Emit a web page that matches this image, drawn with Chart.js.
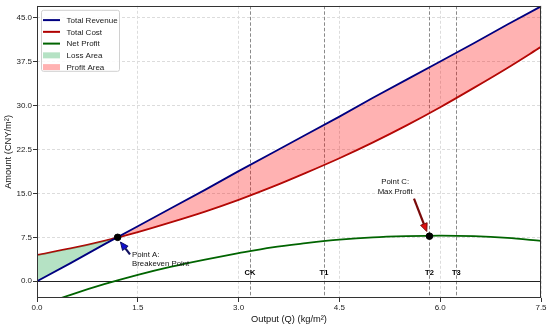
<!DOCTYPE html>
<html>
<head>
<meta charset="utf-8">
<script src="https://cdn.jsdelivr.net/npm/chart.js@4/dist/chart.umd.min.js"></script>
<style>
  html, body { margin: 0; padding: 0; background: #fff; }
</style>
</head>
<body>
<canvas id="chart" width="550" height="327"></canvas>
<script>
// ── Data ─────────────────────────────────────────────────────────
const Q       = [0, 0.5, 1.0, 1.5, 2.0, 2.5, 3.0, 3.5, 4.0, 4.5, 5.0, 5.5, 6.0, 6.5, 7.0, 7.5];
const REVENUE = [0, 3.1, 6.3, 9.4, 12.5, 15.6, 18.8, 21.9, 25.0, 28.1, 31.3, 34.4, 37.5, 40.6, 43.8, 46.9];
const COST    = [4.5, 5.6, 6.9, 8.4, 10.1, 11.9, 13.9, 16.1, 18.5, 21.0, 23.7, 26.6, 29.7, 33.0, 36.4, 40.0];
const PROFIT  = [-4.3, -2.3, -0.5, 1.1, 2.5, 3.7, 4.8, 5.8, 6.5, 7.1, 7.5, 7.7, 7.8, 7.7, 7.4, 6.9];

const TREATMENTS  = ['CK', 'T1', 'T2', 'T3'];
const TREATMENT_Q = [3.17, 4.27, 5.84, 6.24];

const KEY_LABELS = ['Point A:\nBreakeven Point', 'Point C:\nMax Profit'];
const KEY_Q      = [1.2, 5.84];
const KEY_Y      = [7.5, 7.7];

const X_TICKS = [0, 1.5, 3.0, 4.5, 6.0, 7.5];
const Y_TICKS = [0, 7.5, 15.0, 22.5, 30.0, 37.5, 45.0];


// ── Styling ──────────────────────────────────────────────────────
const FONT = "'Liberation Sans', Arial, sans-serif";
const C_REV = '#000080';
const C_COST = '#b00000';
const C_PROFIT = '#006400';
const FILL_PROFIT = 'rgba(255, 0, 0, 0.3)';
const FILL_LOSS = 'rgba(60, 179, 100, 0.38)';

const pts = ys => Q.map((q, i) => ({ x: q, y: ys[i] }));

// annotation placement (data coords)
const NOTES = [
  { tail: [1.384, 4.58], tip: [1.242, 6.7], text: [1.414, 3.8], align: 'left',
    shaft: '#101060', head: '#1010d0' },
  { tail: [5.61, 14.1], tip: [5.80, 8.5], text: [5.33, 16.1], align: 'center',
    shaft: '#7a0a0a', head: '#e01010' }
];

const LEGEND = [
  { label: 'Total Revenue', type: 'line', color: C_REV },
  { label: 'Total Cost', type: 'line', color: C_COST },
  { label: 'Net Profit', type: 'line', color: C_PROFIT },
  { label: 'Loss Area', type: 'patch', color: FILL_LOSS },
  { label: 'Profit Area', type: 'patch', color: FILL_PROFIT }
];


// ── Helpers ──────────────────────────────────────────────────────
function drawArrow(ctx, x0, y0, x1, y1, shaft, head) {
  const ang = Math.atan2(y1 - y0, x1 - x0);
  const hl = 8, hw = 3.5;
  const bx = x1 - hl * Math.cos(ang), by = y1 - hl * Math.sin(ang);
  const nx = -Math.sin(ang), ny = Math.cos(ang);

  ctx.strokeStyle = shaft;
  ctx.lineWidth = 2.2;
  ctx.beginPath();
  ctx.moveTo(x0, y0);
  ctx.lineTo(bx, by);
  ctx.stroke();

  ctx.beginPath();
  ctx.moveTo(x1, y1);
  ctx.lineTo(bx + nx * hw, by + ny * hw);
  ctx.lineTo(bx - nx * hw, by - ny * hw);
  ctx.closePath();
  ctx.fillStyle = head;
  ctx.fill();
  ctx.lineWidth = 1;
  ctx.strokeStyle = shaft;
  ctx.stroke();
}


// ── Overlay plugin ───────────────────────────────────────────────
const overlay = {
  id: 'overlay',
  beforeDatasetsDraw(chart) {
    const { ctx, chartArea: a, scales: { x, y } } = chart;
    ctx.save();
    ctx.beginPath();
    ctx.rect(a.left, a.top, a.width, a.height);
    ctx.clip();

    // treatment reference lines
    ctx.strokeStyle = '#8a8a8a';
    ctx.lineWidth = 1;
    ctx.setLineDash([3.5, 2]);
    TREATMENT_Q.forEach(q => {
      const px = Math.round(x.getPixelForValue(q)) + 0.5;
      ctx.beginPath();
      ctx.moveTo(px, a.top);
      ctx.lineTo(px, a.bottom);
      ctx.stroke();
    });

    // zero line
    ctx.setLineDash([]);
    ctx.strokeStyle = '#222';
    const py = Math.round(y.getPixelForValue(0)) + 0.5;
    ctx.beginPath();
    ctx.moveTo(a.left, py);
    ctx.lineTo(a.right, py);
    ctx.stroke();
    ctx.restore();
  },

  afterDatasetsDraw(chart) {
    const { ctx, scales: { x, y } } = chart;
    ctx.save();

    // treatment labels
    ctx.fillStyle = '#000';
    ctx.font = `bold 7.5px ${FONT}`;
    ctx.textAlign = 'center';
    ctx.textBaseline = 'middle';
    TREATMENTS.forEach((t, i) => {
      ctx.fillText(t, x.getPixelForValue(TREATMENT_Q[i]), y.getPixelForValue(1.35));
    });

    // annotations
    ctx.font = `7.8px ${FONT}`;
    NOTES.forEach((n, i) => {
      drawArrow(ctx,
        x.getPixelForValue(n.tail[0]), y.getPixelForValue(n.tail[1]),
        x.getPixelForValue(n.tip[0]), y.getPixelForValue(n.tip[1]),
        n.shaft, n.head);
      ctx.fillStyle = '#111';
      ctx.textAlign = n.align;
      const tx = x.getPixelForValue(n.text[0]);
      const ty = y.getPixelForValue(n.text[1]);
      const lines = KEY_LABELS[i].split('\n');
      lines.forEach((ln, k) => {
        ctx.fillText(ln, tx, ty + (k - (lines.length - 1) / 2) * 9.3);
      });
    });

    ctx.restore();
  },

  afterDraw(chart) {
    const { ctx, chartArea: a } = chart;
    ctx.save();

    // frame
    ctx.strokeStyle = '#333';
    ctx.lineWidth = 1;
    ctx.strokeRect(Math.round(a.left) + 0.5, Math.round(a.top) + 0.5,
      Math.round(a.width) - 1, Math.round(a.height) - 1);

    // legend box
    const lx = a.left + 4, ly = a.top + 4, lw = 78, lh = 61;
    ctx.fillStyle = 'rgba(255,255,255,0.85)';
    ctx.strokeStyle = '#d0d0d0';
    ctx.beginPath();
    ctx.roundRect(lx + 0.5, ly + 0.5, lw, lh, 2);
    ctx.fill();
    ctx.stroke();

    ctx.font = `8px ${FONT}`;
    ctx.textAlign = 'left';
    ctx.textBaseline = 'middle';
    LEGEND.forEach((item, i) => {
      const cy = ly + 10.3 + i * 11.75;
      if (item.type === 'line') {
        ctx.strokeStyle = item.color;
        ctx.lineWidth = 2;
        ctx.beginPath();
        ctx.moveTo(lx + 2, cy);
        ctx.lineTo(lx + 19, cy);
        ctx.stroke();
      } else {
        ctx.fillStyle = item.color;
        ctx.fillRect(lx + 2, cy - 3, 17, 6);
      }
      ctx.fillStyle = '#1a1a1a';
      ctx.fillText(item.label, lx + 25.5, cy + 0.5);
    });

    ctx.restore();
  }
};


// ── Chart ────────────────────────────────────────────────────────
new Chart(document.getElementById('chart'), {
  type: 'line',
  data: {
    datasets: [
      {
        type: 'scatter',
        label: 'Key points',
        data: KEY_Q.map((q, i) => ({ x: q, y: KEY_Y[i] })),
        pointRadius: 3.3,
        pointBackgroundColor: '#000',
        pointBorderColor: '#000',
        showLine: false
      },
      {
        label: 'Total Revenue',
        data: pts(REVENUE),
        borderColor: C_REV,
        borderWidth: 1.8,
        pointRadius: 0,
        tension: 0,
        fill: { target: 2, above: FILL_PROFIT, below: FILL_LOSS }
      },
      {
        label: 'Total Cost',
        data: pts(COST),
        borderColor: C_COST,
        borderWidth: 1.8,
        pointRadius: 0,
        cubicInterpolationMode: 'monotone',
        fill: false
      },
      {
        label: 'Net Profit',
        data: pts(PROFIT),
        borderColor: C_PROFIT,
        borderWidth: 1.8,
        pointRadius: 0,
        cubicInterpolationMode: 'monotone',
        fill: false
      }
    ]
  },
  options: {
    responsive: false,
    animation: false,
    layout: { padding: { top: 4, right: 9, left: 0, bottom: 0 } },
    plugins: {
      legend: { display: false },
      tooltip: { enabled: false }
    },
    scales: {
      x: {
        type: 'linear',
        min: 0,
        max: 7.5,
        afterBuildTicks: s => { s.ticks = X_TICKS.map(v => ({ value: v })); },
        afterFit: s => { s.height = 29; },
        ticks: {
          callback: v => Number(v).toFixed(1),
          font: { family: FONT, size: 8 },
          color: '#222',
          padding: 1,
          maxRotation: 0
        },
        grid: {
          color: '#dcdcdc',
          tickColor: '#333',
          tickLength: 4,
          tickBorderDash: []
        },
        border: { display: false, dash: [3, 2] },
        title: {
          display: true,
          text: 'Output (Q) (kg/m²)',
          font: { family: FONT, size: 9.3 },
          color: '#111',
          padding: { top: 0, bottom: 2 }
        }
      },
      y: {
        min: -2.85,
        max: 47,
        afterBuildTicks: s => { s.ticks = Y_TICKS.map(v => ({ value: v })); },
        afterFit: s => { s.width = 37; },
        ticks: {
          callback: v => Number(v).toFixed(1),
          font: { family: FONT, size: 8 },
          color: '#222',
          padding: 1
        },
        grid: {
          color: '#dcdcdc',
          tickColor: '#333',
          tickLength: 4,
          tickBorderDash: []
        },
        border: { display: false, dash: [3, 2] },
        title: {
          display: true,
          text: 'Amount (CNY/m²)',
          font: { family: FONT, size: 9.3 },
          color: '#111',
          padding: { top: 3, bottom: 0 }
        }
      }
    }
  },
  plugins: [overlay]
});
</script>
</body>
</html>
